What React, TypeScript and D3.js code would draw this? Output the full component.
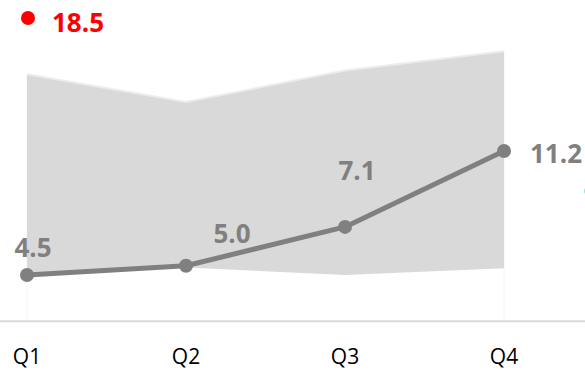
import React from "react";
import * as d3 from "d3";

const categories = ["Q1", "Q2", "Q3", "Q4"];
const values = [4.5, 5.0, 7.1, 11.2];
const bandUpper = [15.35, 13.85, 15.55, 16.6];
const bandLower = [4.5, 4.9, 4.5, 4.87];
const highlightValue = 18.5;

// label offsets (styling, relative to each point)
const labelOffsets = [
  { dx: 6, dy: -18, anchor: "middle" },
  { dx: 46, dy: -23, anchor: "middle" },
  { dx: 12, dy: -47, anchor: "middle" },
  { dx: 26, dy: 12, anchor: "start" },
];

const W = 585;
const H = 371;

export default function App() {
  const x = d3.scalePoint<string>().domain(categories).range([27, 504]);
  const y = d3.scaleLinear().domain([2, 20]).range([321.25, 321.25 - 18 * 18.5]);

  const band = d3
    .area<number>()
    .x((_, i) => x(categories[i]) as number)
    .y0((_, i) => y(bandLower[i]))
    .y1((_, i) => y(bandUpper[i]));
  const bandTop = d3
    .line<number>()
    .x((_, i) => x(categories[i]) as number)
    .y((_, i) => y(bandUpper[i]));
  const line = d3
    .line<number>()
    .x((_, i) => x(categories[i]) as number)
    .y((d) => y(d));

  const font = "'Open Sans', 'Liberation Sans', Arial, sans-serif";
  const x0 = x(categories[0]) as number;
  const x3 = x(categories[categories.length - 1]) as number;

  return (
    <svg
      width={W}
      height={H}
      style={{ position: "absolute", left: 0, top: 0, background: "#fff" }}
    >
      <line x1={x0} x2={x0} y1={y(bandUpper[0])} y2={y(2)} stroke="#f4f4f4" strokeWidth={1} />
      <line x1={x3} x2={x3} y1={y(bandUpper[3])} y2={y(2)} stroke="#f4f4f4" strokeWidth={1} />
      <path d={band(values) || ""} fill="#d9d9d9" />
      <path d={bandTop(values) || ""} fill="none" stroke="#ececec" strokeWidth={2} />
      <line x1={0} x2={W} y1={y(2)} y2={y(2)} stroke="#d9d9d9" strokeWidth={2} />
      <path
        d={line(values) || ""}
        fill="none"
        stroke="#808080"
        strokeWidth={5}
        strokeLinejoin="round"
      />
      {values.map((v, i) => (
        <circle key={i} cx={x(categories[i])} cy={y(v)} r={7} fill="#808080" />
      ))}
      {values.map((v, i) => (
        <text
          key={"l" + i}
          x={(x(categories[i]) as number) + labelOffsets[i].dx}
          y={y(v) + labelOffsets[i].dy}
          textAnchor={labelOffsets[i].anchor}
          fontFamily={font}
          fontWeight="bold"
          fontSize={26}
          fill="#808080"
        >
          {v.toFixed(1)}
        </text>
      ))}
      {categories.map((c) => (
        <text
          key={c}
          x={x(c)}
          y={364}
          textAnchor="middle"
          fontFamily={font}
          fontSize={21}
          fill="#000"
        >
          {c}
        </text>
      ))}
      <circle cx={28} cy={18} r={7} fill="#ff0000" />
      <text x={52} y={32} fontFamily={font} fontWeight="bold" fontSize={26} fill="#ff0000">
        {highlightValue.toFixed(1)}
      </text>
      <circle cx={589} cy={191} r={5} fill="#9fe3c8" />
    </svg>
  );
}
